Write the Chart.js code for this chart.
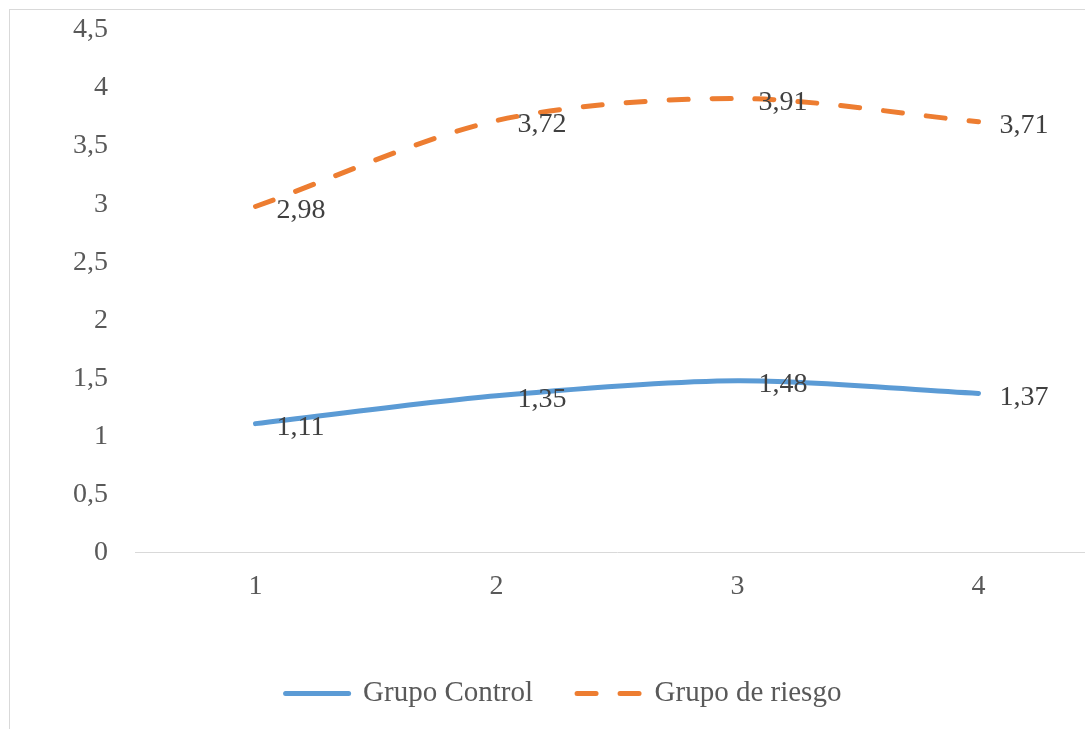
<!DOCTYPE html>
<html>
<head>
<meta charset="utf-8">
<script src="https://cdn.jsdelivr.net/npm/chart.js@4/dist/chart.umd.min.js"></script>
<style>
  html, body { margin: 0; padding: 0; background: #ffffff; overflow: hidden; width: 1085px; height: 729px; }
  #frame { position: absolute; left: 9px; top: 9px; width: 1100px; height: 780px; border: 1px solid #D9D9D9; box-sizing: border-box; }
  #chart { position: absolute; left: 10px; top: 10px; }
</style>
</head>
<body>
<div id="frame"></div>
<canvas id="chart" width="1089" height="720"></canvas>
<script>
// Periods on the horizontal axis
const categories = ['1', '2', '3', '4'];
// Mean scores per group
const grupoControl = [1.11, 1.35, 1.48, 1.37];
const grupoRiesgo = [2.98, 3.72, 3.91, 3.71];
const seriesNames = ['Grupo Control', 'Grupo de riesgo'];

const FONT = "'Liberation Serif', 'Times New Roman', serif";
const commaNum = v => String(v).replace('.', ',');

// Values written to the right of every point
const valueLabels = {
  id: 'valueLabels',
  afterDatasetsDraw(chart) {
    const ctx = chart.ctx;
    ctx.save();
    ctx.font = '28px ' + FONT;
    ctx.fillStyle = '#404040';
    ctx.textAlign = 'left';
    ctx.textBaseline = 'middle';
    chart.data.datasets.forEach((ds, i) => {
      chart.getDatasetMeta(i).data.forEach((pt, j) => {
        ctx.fillText(ds.data[j].toFixed(2).replace('.', ','), pt.x + 21, pt.y + 4);
      });
    });
    ctx.restore();
  }
};

// Moves the legend row slightly to the right of the canvas centre
const legendOffset = {
  id: 'legendOffset',
  afterLayout(chart) {
    const lg = chart.legend;
    if (lg) { lg.left += 9; lg.right += 9; }
  }
};

new Chart(document.getElementById('chart'), {
  type: 'line',
  data: {
    labels: categories,
    datasets: [
      {
        label: seriesNames[0],
        data: grupoControl,
        borderColor: '#5B9BD5',
        backgroundColor: '#5B9BD5',
        borderWidth: 5,
        borderCapStyle: 'round',
        borderJoinStyle: 'round',
        tension: 0.3,
        pointRadius: 0
      },
      {
        label: seriesNames[1],
        data: grupoRiesgo,
        borderColor: '#ED7D31',
        backgroundColor: '#ED7D31',
        borderWidth: 5,
        borderDash: [19, 24],
        borderCapStyle: 'round',
        borderJoinStyle: 'round',
        tension: 0.3,
        pointRadius: 0
      }
    ]
  },
  options: {
    responsive: false,
    animation: false,
    devicePixelRatio: 1,
    layout: { padding: { top: 20, right: 0, bottom: 12, left: 0 } },
    plugins: {
      legend: {
        position: 'bottom',
        labels: {
          font: { family: FONT, size: 29 },
          color: '#595959',
          usePointStyle: true,
          pointStyle: 'line',
          pointStyleWidth: 63,
          boxHeight: 10,
          padding: 44,
          // legend samples use each series' own line style
          generateLabels(chart) {
            const items = Chart.defaults.plugins.legend.labels.generateLabels(chart);
            items.forEach(item => {
              const ds = chart.data.datasets[item.datasetIndex];
              item.strokeStyle = ds.borderColor;
              item.lineWidth = ds.borderWidth;
              item.lineDash = ds.borderDash || [];
              item.lineCap = 'round';
              item.pointStyle = 'line';
            });
            return items;
          }
        }
      },
      tooltip: { enabled: false }
    },
    scales: {
      x: {
        offset: true,
        grid: { display: false, drawTicks: false },
        border: { display: true, color: '#D9D9D9', width: 1 },
        ticks: { font: { family: FONT, size: 28 }, color: '#595959', padding: 17, maxRotation: 0 },
        afterFit(scale) { scale.height = 82.5; }
      },
      y: {
        min: 0,
        max: 4.5,
        grid: { display: false, drawTicks: false },
        border: { display: false },
        ticks: {
          stepSize: 0.5,
          font: { family: FONT, size: 28 },
          color: '#595959',
          padding: 27,
          callback: v => commaNum(v)
        },
        afterFit(scale) {
          scale.width = 125;
          scale.paddingTop = 0;
          scale.paddingBottom = 0;
        }
      }
    }
  },
  plugins: [valueLabels, legendOffset]
});
</script>
</body>
</html>
